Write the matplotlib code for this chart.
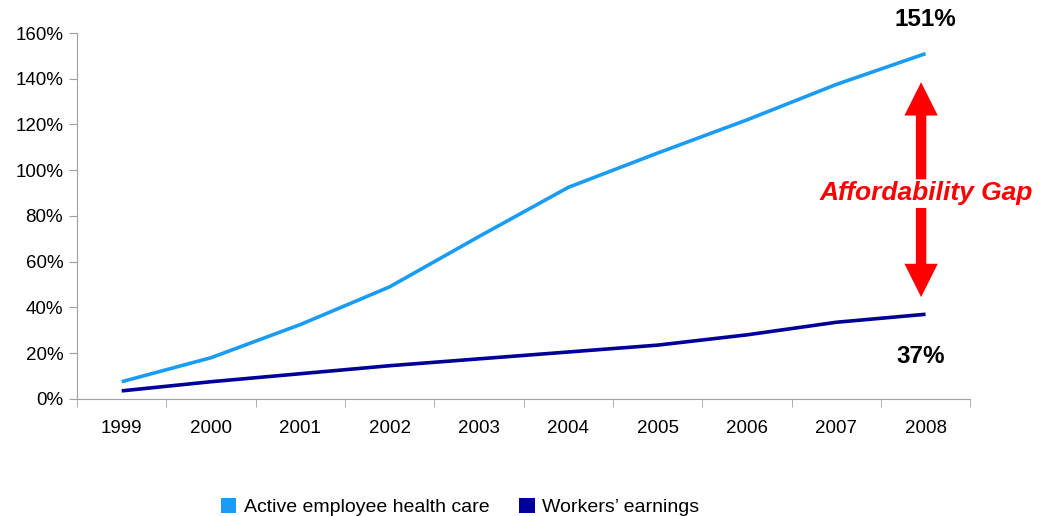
import matplotlib
matplotlib.use("Agg")
import matplotlib.pyplot as plt
from matplotlib.patches import Patch
from matplotlib.ticker import PercentFormatter

years = ["1999", "2000", "2001", "2002", "2003", "2004", "2005", "2006", "2007", "2008"]
health_care = [7.5, 18, 32.5, 49, 71, 92.5, 107.5, 122, 137.5, 151]
earnings = [3.5, 7.5, 11, 14.5, 17.5, 20.5, 23.5, 28, 33.5, 37]

light_blue = "#1a9cf5"
navy = "#000099"

plt.rcParams["font.family"] = ["Liberation Sans", "DejaVu Sans"]

fig = plt.figure(figsize=(10.41, 5.16), dpi=100)
ax = fig.add_axes([0.074, 0.227, 0.858, 0.709])

x = list(range(len(years)))
ax.plot(x, health_care, color=light_blue, lw=2.6, solid_capstyle="butt")
ax.plot(x, earnings, color=navy, lw=2.6, solid_capstyle="butt")

ax.set_xlim(-0.5, len(years) - 0.5)
ax.set_ylim(0, 160)
ax.set_yticks(range(0, 161, 20))
ax.yaxis.set_major_formatter(PercentFormatter(decimals=0))
ax.set_xticks(x)
ax.set_xticklabels(years)
ax.set_xticks([i - 0.5 for i in range(len(years) + 1)], minor=True)
ax.tick_params(axis="x", which="major", length=0, pad=15, labelsize=13.5)
ax.tick_params(axis="x", which="minor", length=6, color="#a0a0a0", direction="out")
ax.tick_params(axis="y", length=6, color="#a0a0a0", labelsize=13.5, pad=4)

for s in ["top", "right"]:
    ax.spines[s].set_visible(False)
for s in ["left", "bottom"]:
    ax.spines[s].set_color("#a0a0a0")

# end value labels
ax.text(x[-1], 166, f"{health_care[-1]:.0f}%", ha="center", va="center",
        fontsize=17.5, fontweight="bold", clip_on=False)
ax.text(x[-1] - 0.05, 18.5, f"{earnings[-1]:.0f}%", ha="center", va="center",
        fontsize=17.5, fontweight="bold")

# affordability gap arrow
gap_x = x[-1] - 0.05
style = "simple,head_length=24,head_width=24,tail_width=7.5"
ax.annotate("", xy=(gap_x, 138.5), xytext=(gap_x, 96),
            arrowprops=dict(arrowstyle=style, color="#ff0000", mutation_scale=1,
                            shrinkA=0, shrinkB=0, lw=0))
ax.annotate("", xy=(gap_x, 44.5), xytext=(gap_x, 83.5),
            arrowprops=dict(arrowstyle=style, color="#ff0000", mutation_scale=1,
                            shrinkA=0, shrinkB=0, lw=0))
ax.text(gap_x + 0.06, 90, "Affordability Gap", color="#ff0000", ha="center", va="center",
        fontsize=19, fontweight="bold", fontstyle="italic", clip_on=False)

handles = [Patch(facecolor=light_blue, label="Active employee health care"),
           Patch(facecolor=navy, label="Workers\u2019 earnings")]
fig.legend(handles=handles, loc="center", bbox_to_anchor=(0.442, 0.017), ncol=2,
           frameon=False, fontsize=14, handlelength=0.8, handleheight=0.8,
           handletextpad=0.4, columnspacing=1.5)

fig.savefig("out.png", dpi=100)
